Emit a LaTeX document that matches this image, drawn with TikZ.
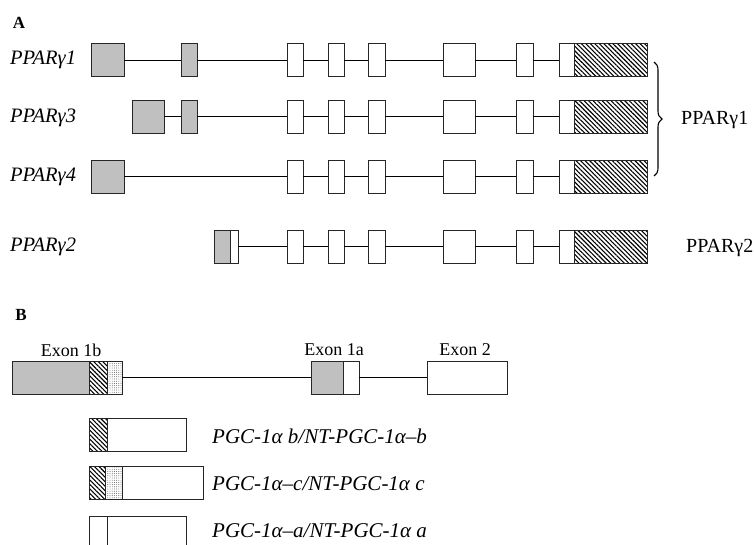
\documentclass[tikz,border=0pt]{standalone}
\usepackage{fontspec}
\setmainfont{Liberation Serif}
\usetikzlibrary{patterns.meta,decorations.pathreplacing}
\definecolor{exgray}{RGB}{192,192,192}
\tikzset{
  ex/.style={draw=black!85, line width=1pt, inner sep=0pt, outer sep=0pt, anchor=west, minimum height=33pt},
  grayex/.style={ex, fill=exgray},
  whiteex/.style={ex, fill=white},
  hatchex/.style={ex, pattern={Lines[angle=-45,distance=3.2pt,line width=1.1pt]}},
  dotex/.style={ex, pattern={Dots[radius=0.45pt,distance=2.2pt]}, pattern color=black!75},
  thinln/.style={line width=0.8pt},
  thickln/.style={line width=1.6pt},
  isolab/.style={anchor=west, inner sep=0pt, font=\fontsize{20.5}{24}\selectfont\itshape},
  protlab/.style={anchor=west, inner sep=0pt, font=\fontsize{20}{24}\selectfont},
  exlab/.style={inner sep=0pt, font=\fontsize{18}{21}\selectfont},
  panlab/.style={inner sep=0pt, font=\fontsize{17}{20}\selectfont\bfseries},
  pgclab/.style={anchor=west, inner sep=0pt, font=\fontsize{21}{25}\selectfont\itshape},
}
\newcommand\exbox[5]{\node[#1, minimum width=#4pt-#3pt] (#2) at (#3,#5) {};}
\newcommand\commonexons[2]{%
  \exbox{whiteex}{#1c}{287}{303}{#2}
  \exbox{whiteex}{#1d}{328}{344}{#2}
  \exbox{whiteex}{#1e}{368}{385}{#2}
  \exbox{whiteex}{#1f}{443}{475}{#2}
  \exbox{whiteex}{#1g}{516}{533}{#2}
  \exbox{whiteex}{#1h}{559}{574}{#2}
  \exbox{hatchex}{#1i}{574}{647}{#2}
}
\newcommand\commonlinks[2]{%
  \draw[#2] (#1c.east) -- (#1d.west) (#1d.east) -- (#1e.west) (#1e.east) -- (#1f.west)
            (#1f.east) -- (#1g.west) (#1g.east) -- (#1h.west);
}
\begin{document}
\begin{tikzpicture}[x=1pt,y=-1pt]
\useasboundingbox (0,0) rectangle (754,544);
% Panel A
\node[panlab] (A) at (19,23) {A};
% row 1
\exbox{grayex}{ra}{91}{124}{60}
\exbox{grayex}{rb}{181}{197}{60}
\commonexons{r}{60}
\draw[thinln] (ra.east) -- (rb.west) (rb.east) -- (rc.west);
\commonlinks{r}{thinln}
\node[isolab] (l1) at (10,60) {PPARγ1};
% row 2
\exbox{grayex}{sa}{132}{164}{116.5}
\exbox{grayex}{sb}{181}{197}{116.5}
\commonexons{s}{116.5}
\draw[thickln] (sa.east) -- (sb.west) (sb.east) -- (sc.west);
\commonlinks{s}{thickln}
\node[isolab] (l3) at (10,118) {PPARγ3};
% row 3
\exbox{grayex}{ta}{91}{124}{176.5}
\commonexons{t}{176.5}
\draw[thickln] (ta.east) -- (tc.west);
\commonlinks{t}{thickln}
\node[isolab] (l4) at (10,177) {PPARγ4};
% row 4
\exbox{grayex}{ua}{214}{230}{246.5}
\exbox{whiteex}{ub}{230}{238}{246.5}
\commonexons{u}{246.5}
\draw[thinln] (ub.east) -- (uc.west);
\commonlinks{u}{thinln}
\node[isolab] (l2) at (10,247) {PPARγ2};
% brace
\coordinate (bt) at (654,62);
\coordinate (bb) at (654,176);
\draw[line width=1.1pt, decorate, decoration={brace, amplitude=8pt}] (bt) -- (bb);
\node[protlab] (p1) at (681,120) {PPARγ1};
\node[protlab] (p2) at (686,248) {PPARγ2};
% Panel B
\node[panlab] (B) at (21,315) {B};
\exbox{grayex}{ea}{12}{89}{377.5}
\exbox{hatchex}{eb}{89}{107}{377.5}
\exbox{dotex}{ec}{107}{122}{377.5}
\exbox{grayex}{fa}{311}{343}{377.5}
\exbox{whiteex}{fb}{343}{359}{377.5}
\exbox{whiteex}{g}{427}{507}{377.5}
\draw[thickln] (ec.east) -- (fa.west) (fb.east) -- (g.west);
\node[exlab] (x1b) at (71,350) {Exon 1b};
\node[exlab] (x1a) at (334,350) {Exon 1a};
\node[exlab] (x2) at (465,350) {Exon 2};
% transcripts
\exbox{hatchex}{ka}{89}{107}{434.5}
\exbox{whiteex}{kb}{107}{186}{434.5}
\exbox{hatchex}{ma}{89}{105}{483}
\exbox{dotex}{mb}{105}{122}{483}
\exbox{whiteex}{mc}{122}{203}{483}
\exbox{whiteex}{na}{89}{107}{532.5}
\exbox{whiteex}{nb}{107}{186}{532.5}
\node[pgclab] (t1) at (212,436) {PGC-1α b/NT-PGC-1α–b};
\node[pgclab] (t2) at (212,484) {PGC-1α–c/NT-PGC-1α c};
\node[pgclab] (t3) at (212,531) {PGC-1α–a/NT-PGC-1α a};
\end{tikzpicture}
\end{document}
